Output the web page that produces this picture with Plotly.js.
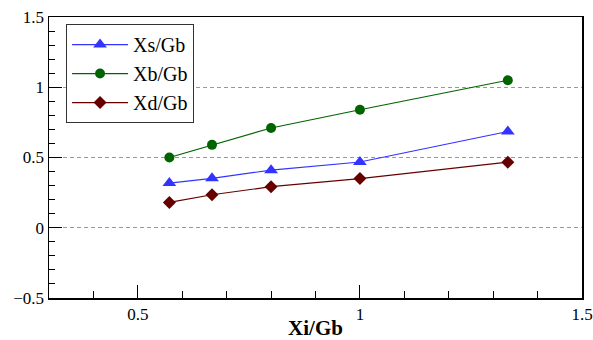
<!DOCTYPE html>
<html>
<head>
<meta charset="utf-8">
<script src="https://cdn.plot.ly/plotly-3.0.1.min.js"></script>
<style>html,body{margin:0;padding:0;background:#fff;}#chart{width:593px;height:340px;}</style>
</head>
<body>
<div id="chart"></div>
<script>
const xi = [0.571, 0.667, 0.8, 1.0, 1.333];
const xsGb = [0.318, 0.352, 0.41, 0.468, 0.685];
const xbGb = [0.50, 0.59, 0.71, 0.84, 1.05];
const xdGb = [0.18, 0.235, 0.292, 0.35, 0.467];
const seriesNames = ['Xs/Gb', 'Xb/Gb', 'Xd/Gb'];
const xTitle = 'Xi/Gb';

const font = 'Liberation Serif';
const traces = [
  {x: xi, y: xsGb, name: seriesNames[0], mode: 'lines+markers',
   line: {color: '#3333ff', width: 1.2}, marker: {symbol: 'triangle-up', size: 12, color: '#3333ff'}},
  {x: xi, y: xbGb, name: seriesNames[1], mode: 'lines+markers',
   line: {color: '#006400', width: 1.2}, marker: {symbol: 'circle', size: 10, color: '#006400'}},
  {x: xi, y: xdGb, name: seriesNames[2], mode: 'lines+markers',
   line: {color: '#660000', width: 1.2}, marker: {symbol: 'diamond', size: 10, color: '#660000'}}
];
const layout = {
  width: 593, height: 340,
  margin: {l: 49, r: 11, t: 17, b: 42},
  paper_bgcolor: '#fff', plot_bgcolor: '#fff',
  font: {family: font, size: 17, color: '#000'},
  showlegend: true,
  legend: {x: 0.032, y: 0.975, xanchor: 'left', yanchor: 'top',
    bgcolor: '#fff', bordercolor: '#333', borderwidth: 1, itemwidth: 56,
    font: {family: font, size: 20, color: '#000'}, tracegroupgap: 0},
  xaxis: {range: [0.3, 1.5], dtick: 0.5, tick0: 0, showgrid: false, zeroline: false,
    showline: true, linecolor: '#000', linewidth: 1.5, mirror: true,
    ticks: 'inside', ticklen: 13, tickcolor: '#000', tickwidth: 1,
    minor: {ticks: 'inside', ticklen: 7, dtick: 0.1, tick0: 0, tickcolor: '#000', showgrid: false},
    tickfont: {family: font, size: 17},
    title: {text: '<b>' + xTitle + '</b>', font: {family: font, size: 21}, standoff: 10}},
  yaxis: {range: [-0.5, 1.5], dtick: 0.5, tick0: 0, showgrid: true, gridcolor: '#999',
    griddash: '4px,3px', gridwidth: 1, zeroline: false,
    showline: true, linecolor: '#000', linewidth: 1.5, mirror: true,
    ticks: 'inside', ticklen: 13, tickcolor: '#000', tickwidth: 1,
    minor: {ticks: 'inside', ticklen: 6, dtick: 0.1, tick0: 0, tickcolor: '#000', showgrid: false},
    tickfont: {family: font, size: 17}}
};
Plotly.newPlot('chart', traces, layout, {displayModeBar: false, staticPlot: true});
</script>
</body>
</html>
